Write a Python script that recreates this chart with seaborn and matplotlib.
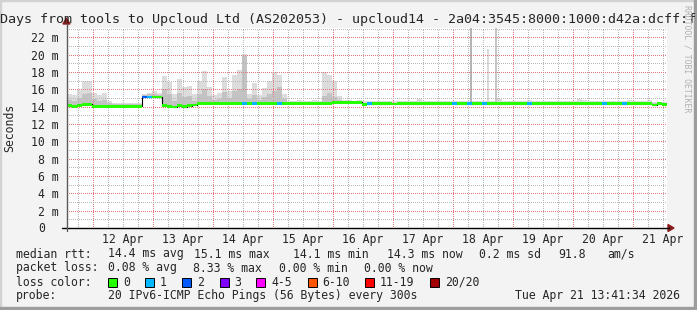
import numpy as np
import pandas as pd
import matplotlib
matplotlib.use("Agg")
import matplotlib.pyplot as plt
import matplotlib.dates as mdates
from matplotlib.lines import Line2D
from matplotlib.patches import Polygon, Rectangle
from matplotlib.ticker import FuncFormatter, NullFormatter
import seaborn as sns

# ---------------- data ----------------
title_text = "10 Days from tools to Upcloud Ltd (AS202053) - upcloud14 - 2a04:3545:8000:1000:d42a:dcff:f"
start_time = "2026-04-11 13:41:34"
end_time = "2026-04-21 13:41:34"
bin_hours = 2

# median RTT per 2-hour bin (ms)
median_ms = ([14.10, 14.05, 14.15, 14.25, 14.25]
             + [14.05] * 10
             + [15.10] * 4
             + [14.10, 14.05, 13.95, 14.10, 14.00, 14.10, 14.20]
             + [14.40] * 27
             + [14.50] * 6
             + [14.25] + [14.35] * 5 + [14.30] + [14.35] * 51 + [14.20, 14.35, 14.25])

# highest ping of the smoke per bin (ms)
smoke_max_ms = ([15.5, 15.3, 15.9, 16.9, 17.0, 15.6, 15.3, 15.6, 14.6]
                + [14.4] * 6
                + [15.4, 15.6, 15.8, 15.6]
                + [17.5, 16.8, 15.5, 17.2, 16.3, 16.4, 15.5]
                + [17.0, 18.1, 16.3, 15.3, 15.6, 17.4, 15.8, 17.6, 18.2, 20.1, 15.5, 16.7,
                   15.3, 16.1, 16.9, 18.0, 17.6, 15.5]
                + [14.7, 14.7, 14.8, 14.7, 14.7, 14.8, 14.7]
                + [18.0, 17.6, 16.9, 15.2, 14.8, 14.8, 14.7, 14.8]
                + [14.6] * 11 + [14.9] + [14.6] * 15 + [14.9] + [14.6] * 5 + [14.8]
                + [14.6] * 9 + [14.85, 14.8] + [14.6] * 8 + [14.8] + [14.6] * 3 + [14.8]
                + [14.55] * 3)

# top of the dense part of the smoke per bin (ms)
smoke_dense_ms = ([14.8, 14.7, 15.0, 15.5, 15.6, 14.9, 14.7, 14.8, 14.4]
                  + [14.3] * 6
                  + [15.3, 15.4, 15.5, 15.3]
                  + [16.0, 15.4, 14.7, 15.6, 15.1, 15.2, 14.7]
                  + [15.4, 16.0, 15.2, 14.8, 14.9, 15.7, 15.0, 15.8, 16.0, 19.8, 14.9, 15.3,
                     14.8, 15.1, 15.4, 15.8, 16.3, 14.9]
                  + [14.55] * 7
                  + [15.2, 15.6, 15.1, 14.8, 14.6, 14.6, 14.6, 14.6]
                  + [14.45] * 61)

# bins with lost pings (bin index, pings lost)
loss_bins = [15, 16, 35, 37, 42, 60, 77, 80, 83, 92, 107, 111]
loss_counts = [2, 1, 1, 1, 1, 1, 1, 1, 1, 1, 1, 1]

# isolated spikes (hours after start, top ms)
spike_hours = [161.6, 168.4, 171.6]
spike_top_ms = [23.5, 20.6, 23.5]
spike_base_ms = [14.35, 14.35, 14.35]

rtt_values = [14.4, 15.1, 14.1, 14.3, 0.2]
rtt_names = ["avg", "max", "min", "now", "sd"]
am_per_s = 91.8
loss_values = [0.08, 8.33, 0.00, 0.00]
loss_names = ["avg", "max", "min", "now"]
loss_labels = ["0", "1", "2", "3", "4-5", "6-10", "11-19", "20/20"]
loss_colors = ["#26ff00", "#00b8ff", "#0059ff", "#7e00ff", "#ff00ff", "#ff5500", "#ff0000", "#a10000"]
probe_text = "20 IPv6-ICMP Echo Pings (56 Bytes) every 300s"
stamp_text = "Tue Apr 21 13:41:34 2026"

# ---------------- style ----------------
sns.set_style("white")
plt.rcParams["font.family"] = ["DejaVu Sans Mono"]
FS = 8.3

W, H = 697, 310
def fx(p):
    return p / W
def fy(p):
    return 1 - p / H

fig = plt.figure(figsize=(W / 100, H / 100), dpi=100, facecolor="#f3f3f3")
ax = fig.add_axes([fx(67), fy(228), 600 / W, 200 / H])
ax.set_facecolor("white")

t0 = pd.Timestamp(start_time)
t1 = pd.Timestamp(end_time)
bin_starts = pd.date_range(t0, periods=len(median_ms), freq=f"{bin_hours}h")
xnum = mdates.date2num(bin_starts.to_pydatetime())
width = bin_hours / 24

med = np.array(median_ms)
hi = np.array(smoke_max_ms)
dense = np.array(smoke_dense_ms)

# smoke
ax.bar(xnum, hi - med, bottom=med, width=width, align="edge", color="#dcdcdc", linewidth=0, zorder=1)
ax.bar(xnum, dense - med, bottom=med, width=width, align="edge", color="#c3c3c3", linewidth=0, zorder=1.1)

spike_t = mdates.date2num((t0 + pd.to_timedelta(spike_hours, unit="h")).to_pydatetime())
ax.bar(spike_t, np.array(spike_top_ms) - np.array(spike_base_ms), bottom=spike_base_ms,
       width=0.9 / 24, align="center", color=["#b4b4b4", "#dadada", "#c6c6c6"], linewidth=0, zorder=1.2)

# median line (black steps) via seaborn
step_df = pd.DataFrame({"time": list(bin_starts) + [t1], "rtt": list(med) + [med[-1]]})
sns.lineplot(data=step_df, x="time", y="rtt", drawstyle="steps-post", color="black",
             lw=0.8, ax=ax, zorder=2.6)

def loss_color_index(n):
    if n <= 3:
        return n
    if n <= 5:
        return 4
    if n <= 10:
        return 5
    if n <= 19:
        return 6
    return 7

lost = np.zeros(len(med), dtype=int)
for b, c in zip(loss_bins, loss_counts):
    lost[b] = c
band_colors = [loss_colors[loss_color_index(n)] for n in lost]
ax.bar(xnum, 0.32, bottom=med - 0.16, width=width, align="edge", color=band_colors,
       linewidth=0, zorder=3)

ax.set_xlim(mdates.date2num(t0.to_pydatetime()), mdates.date2num(t1.to_pydatetime()))
ax.set_ylim(0, 23.07)
ax.set_xlabel("")
ax.set_ylabel("")

ax.set_yticks(np.arange(0, 23, 2))
ax.set_yticklabels([""] + [f"{v} m" for v in range(2, 23, 2)])
ax.set_yticks(np.arange(0, 24, 1), minor=True)
ax.xaxis.set_major_locator(mdates.DayLocator())
ax.xaxis.set_minor_locator(mdates.HourLocator(byhour=[0, 6, 12, 18]))
ax.xaxis.set_major_formatter(NullFormatter())

def day_fmt(x, pos):
    if int(round((x % 1) * 24)) % 24 == 12:
        return mdates.num2date(x).strftime("%d %b")
    return ""
ax.xaxis.set_minor_formatter(FuncFormatter(day_fmt))

ax.grid(which="major", color="#e07878", linestyle=(0, (1, 2)), linewidth=0.72, antialiased=False)
ax.grid(which="minor", color="#b8b8b8", linestyle=(0, (1, 2)), linewidth=0.72, antialiased=False)
ax.set_axisbelow(False)
ax.tick_params(axis="y", which="both", length=0, pad=5.8, labelsize=FS)
ax.tick_params(axis="x", which="major", length=2.2, color="#d06060", width=0.7, direction="out")
ax.tick_params(axis="x", which="minor", length=0, pad=3.5, labelsize=FS)
for s in ax.spines.values():
    s.set_visible(False)

# axes lines and arrows
fig.add_artist(Line2D([fx(62), fx(669)], [fy(228), fy(228)], color="black", lw=1.0))
fig.add_artist(Polygon([[fx(668), fy(224.5)], [fx(668), fy(231.5)], [fx(674), fy(228)]],
                       closed=True, color="#8b1c1c", transform=fig.transFigure))
fig.add_artist(Line2D([fx(66.5), fx(66.5)], [fy(231), fy(24)], color="#5a5a5a", lw=1.0))
fig.add_artist(Polygon([[fx(63), fy(24)], [fx(70), fy(24)], [fx(66.5), fy(18)]],
                       closed=True, color="#8b1c1c", transform=fig.transFigure))

# texts
fig.text(fx(45.5), fy(228), "0", ha="right", va="center", fontsize=FS)
fig.text(fx(-24), fy(19), title_text, ha="left", va="center", fontsize=9.6)
fig.text(fx(10), fy(128), "Seconds", rotation=90, ha="center", va="center", fontsize=FS)
fig.text(fx(687), fy(5), "RRDTOOL / TOBI OETIKER", rotation=270, ha="center", va="top",
         fontsize=5.9, color="#b0b0b0")

rows_y = [254, 268, 282, 296]
fig.text(fx(16), fy(rows_y[0]), "median rtt:", ha="left", va="center", fontsize=FS)
rtt_x = [107.6, 194, 293, 387, 479]
for xv, v, n in zip(rtt_x, rtt_values, rtt_names):
    fig.text(fx(xv), fy(rows_y[0]), f"{v:.1f} ms {n}", ha="left", va="center", fontsize=FS)
fig.text(fx(558), fy(rows_y[0]), f"{am_per_s:.1f}", ha="left", va="center", fontsize=FS)
fig.text(fx(607), fy(rows_y[0]), "am/s", ha="left", va="center", fontsize=FS)

fig.text(fx(16), fy(rows_y[1]), "packet loss:", ha="left", va="center", fontsize=FS)
loss_x = [107.6, 193, 279, 364]
for xv, v, n in zip(loss_x, loss_values, loss_names):
    fig.text(fx(xv), fy(rows_y[1]), f"{v:.2f} % {n}", ha="left", va="center", fontsize=FS)

fig.text(fx(16), fy(rows_y[2]), "loss color:", ha="left", va="center", fontsize=FS)
box_x = [108, 145, 182, 219.5, 256, 307.5, 365, 430]
for bx, lab, col in zip(box_x, loss_labels, loss_colors):
    fig.add_artist(Rectangle((fx(bx), fy(rows_y[2] + 4.5)), 9 / W, 9 / H, facecolor=col,
                             edgecolor="black", lw=0.7, transform=fig.transFigure))
    fig.text(fx(bx + 15), fy(rows_y[2]), lab, ha="left", va="center", fontsize=FS)

fig.text(fx(16), fy(rows_y[3]), "probe:", ha="left", va="center", fontsize=FS)
fig.text(fx(107.6), fy(rows_y[3]), probe_text, ha="left", va="center", fontsize=FS)
fig.text(fx(680), fy(rows_y[3]), stamp_text, ha="right", va="center", fontsize=FS)

# frame
fig.add_artist(Rectangle((0, fy(1.2)), 1, 1.2 / H, color="#d2d2d2", transform=fig.transFigure))
fig.add_artist(Rectangle((0, 0), 1.2 / W, 1, color="#d2d2d2", transform=fig.transFigure))
fig.add_artist(Rectangle((fx(694), 0), 3 / W, 1, color="#9d9d9d", transform=fig.transFigure))
fig.add_artist(Rectangle((0, 0), 1, 2.6 / H, color="#9d9d9d", transform=fig.transFigure))

fig.savefig("out.png", dpi=100, facecolor=fig.get_facecolor())
